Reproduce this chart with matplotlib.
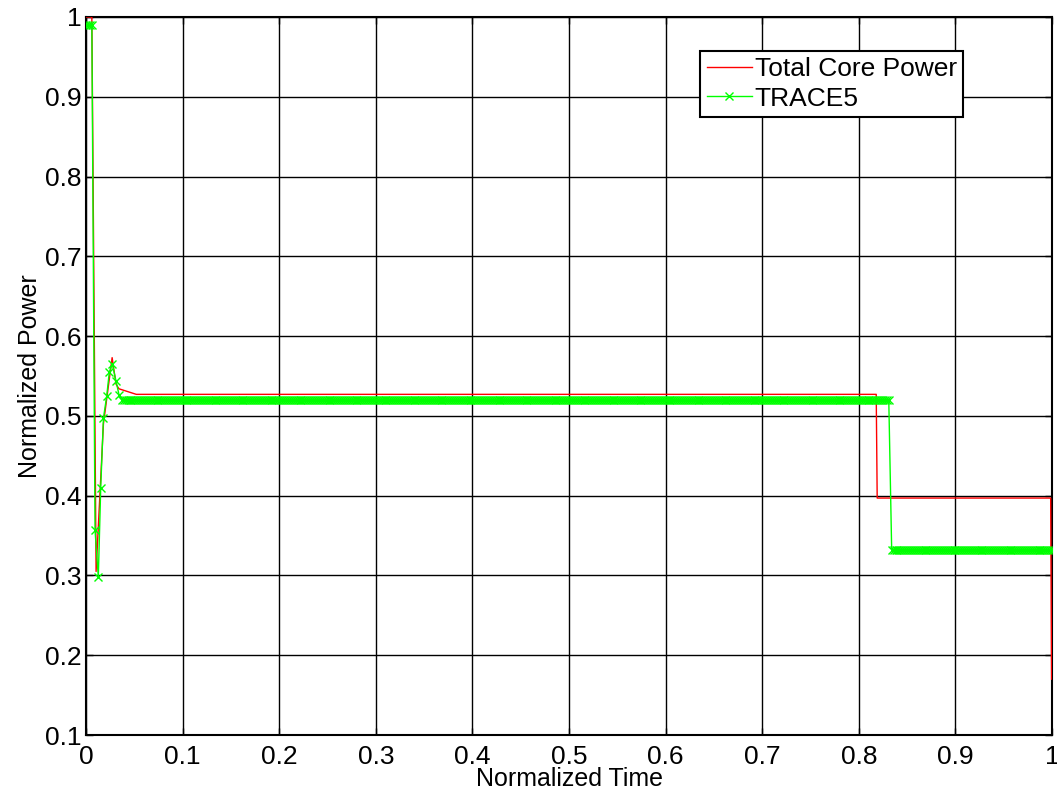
import matplotlib
matplotlib.use('Agg')
import matplotlib.pyplot as plt
import numpy as np

plt.rcParams['font.family'] = ['Liberation Sans', 'DejaVu Sans']

# Total core power (red), read point by point
core_t = [0.0, 0.006, 0.0104, 0.018, 0.027, 0.031, 0.034, 0.052, 0.818, 0.819, 0.9986, 0.9995]
core_p = [1.0, 1.0, 0.305, 0.49, 0.573, 0.54, 0.534, 0.527, 0.527, 0.397, 0.397, 0.17]

# TRACE5 (green): initial transient
trace_t_start = [0.0, 0.002, 0.004, 0.006, 0.0093, 0.0127, 0.0152, 0.018, 0.0214, 0.0241, 0.0272, 0.031, 0.0342]
trace_p_start = [0.99, 0.99, 0.99, 0.99, 0.357, 0.298, 0.410, 0.497, 0.525, 0.555, 0.565, 0.544, 0.526]
# plateaus, sampled every ~0.002 in time
trace_level_1 = 0.520
trace_level_2 = 0.332
step_1 = (0.037, 0.832)
step_2 = (0.834, 1.0)
dt = 0.002

t1 = np.arange(step_1[0], step_1[1] + 1e-9, dt)
t2 = np.arange(step_2[0], step_2[1] + 1e-9, dt)
trace_t = np.concatenate([trace_t_start, t1, t2])
trace_p = np.concatenate([trace_p_start, np.full(len(t1), trace_level_1), np.full(len(t2), trace_level_2)])

fig = plt.figure(figsize=(10.57, 7.94), dpi=100)
ax = fig.add_axes([0.0814, 0.0743, 0.9139, 0.9043])

ax.plot(core_t, core_p, color='red', lw=1.0, label='Total Core Power', zorder=3)
ax.plot(trace_t, trace_p, color='#00ff00', lw=1.0, marker='x', markersize=5.5, markeredgewidth=1.0,
        label='TRACE5', zorder=4)

ax.set_xlim(0, 1)
ax.set_ylim(0.1, 1.0)
ax.set_xticks(np.arange(0, 1.01, 0.1))
ax.set_xticklabels(['0', '0.1', '0.2', '0.3', '0.4', '0.5', '0.6', '0.7', '0.8', '0.9', '1'])
ax.set_yticks(np.arange(0.1, 1.01, 0.1))
ax.set_yticklabels(['0.1', '0.2', '0.3', '0.4', '0.5', '0.6', '0.7', '0.8', '0.9', '1'])
ax.tick_params(axis='both', direction='in', top=True, right=True, labelsize=19, length=5, width=1)
ax.tick_params(axis='x', pad=7)
ax.tick_params(axis='y', pad=3)
ax.grid(True, color='black', lw=1.0, ls='-')
ax.set_axisbelow(True)
for s in ax.spines.values():
    s.set_linewidth(1.5)

ax.set_xlabel('Normalized Time', fontsize=18, labelpad=-1)
ax.set_ylabel('Normalized Power', fontsize=18, labelpad=2)

leg = ax.legend(loc='upper left', bbox_to_anchor=(0.636, 0.953), fontsize=19, frameon=True,
                fancybox=False, handlelength=1.7, handletextpad=0.1, borderpad=0.25,
                labelspacing=0.2, borderaxespad=0)
leg.get_frame().set_edgecolor('black')
leg.get_frame().set_linewidth(1.5)
leg.get_frame().set_alpha(1)

fig.savefig('out.png', dpi=100)
